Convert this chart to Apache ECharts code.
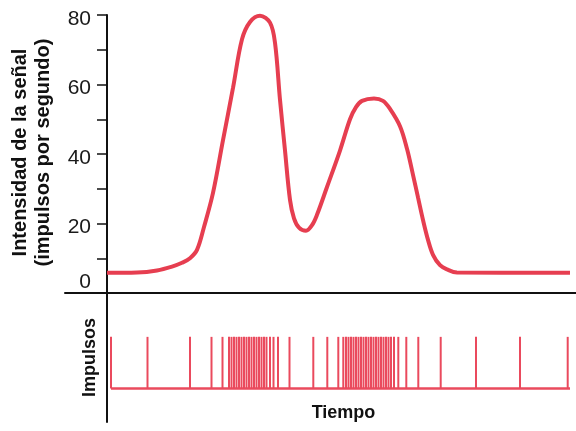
<!DOCTYPE html>
<html>
<head>
<meta charset="utf-8">
<script src="https://cdn.jsdelivr.net/npm/echarts@6/dist/echarts.min.js"></script>
<style>
html,body{margin:0;padding:0;background:#fff;}
#chart{width:576px;height:431px;}
</style>
</head>
<body>
<div id="chart"></div>
<script>
// Time (arbitrary units) and signal intensity (impulses per second)
const signalTime = [0, 30, 50, 65, 75, 83, 90, 97, 106, 116, 126, 135, 143, 153, 163, 168, 173, 178, 183, 187, 192, 199, 205, 210, 220, 233, 243, 249, 255, 267, 276, 283, 293, 300, 306, 311, 316, 321, 326, 333, 340, 350, 463];
const signalValue = [5.8, 5.9, 6.5, 7.6, 8.7, 10, 12.4, 19, 28.8, 44, 59, 73, 78, 79.8, 77.8, 72, 55.6, 41, 26.8, 21.5, 18.8, 17.9, 19.5, 22.5, 30.5, 41, 50, 53.5, 55.3, 56, 55.3, 53, 48, 41.5, 34, 27.5, 21, 15.3, 11, 8, 6.8, 5.9, 5.8];
// Impulse (spike) times
const impulseTimes = [4, 40.5, 83, 104.5, 115.5, 122, 124.5, 127, 129.5, 132, 134.5, 137, 139.5, 142, 144.5, 147, 149.5, 152, 154.5, 157, 159.5, 163, 166.5, 171, 182.5, 206.3, 220.3, 231.3, 236.3, 239, 241.5, 244, 246.5, 249, 251.5, 254, 256.5, 259, 261.5, 264, 266.5, 269, 271.5, 274, 276.5, 279, 281.5, 284, 287, 291.3, 299.3, 311.3, 333.7, 369, 413, 460.7];
const yTicks = [0, 20, 40, 60, 80];
const yName = 'Intensidad de la señal\n(impulsos por segundo)';
const impulseName = 'Impulsos';
const xName = 'Tiempo';

const red = '#e63e50';
const spikeRed = '#ea4a5d';
const font = 'Liberation Sans, Arial, Helvetica, sans-serif';

const chart = echarts.init(document.getElementById('chart'), null, {renderer: 'canvas'});
const curveData = signalTime.map((t, i) => [t, signalValue[i]]);
const spikeData = impulseTimes.map(t => [t, 1]);
const baseline = [[impulseTimes[0], 0], [signalTime[signalTime.length - 1], 0]];

chart.setOption({
  animation: false,
  backgroundColor: '#fff',
  grid: [
    {left: 65, right: 0, top: 15, bottom: 138, containLabel: false, outerBoundsMode: 'none'},
    {left: 65, right: 0, top: 293, bottom: 9, containLabel: false, outerBoundsMode: 'none'}
  ],
  xAxis: [
    {
      gridIndex: 0, type: 'value', min: -42, max: 469,
      axisLine: {show: true, onZero: true, lineStyle: {color: '#111', width: 2}},
      axisTick: {show: false}, axisLabel: {show: false}, splitLine: {show: false}
    },
    {
      gridIndex: 1, type: 'value', min: -42, max: 469,
      axisLine: {show: false, onZero: true},
      axisTick: {show: false}, axisLabel: {show: false}, splitLine: {show: false},
      name: xName, nameLocation: 'middle', nameGap: -18,
      nameTextStyle: {fontFamily: font, fontSize: 18, fontWeight: 'bold', color: '#111', padding: [0, 0, 0, 46]}
    }
  ],
  yAxis: [
    {
      gridIndex: 0, type: 'value', min: 0, max: 80, interval: 10,
      axisLine: {show: true, onZero: true, lineStyle: {color: '#111', width: 2}},
      axisTick: {show: true, inside: false, length: 10, lineStyle: {color: '#111', width: 1.5}},
      axisLabel: {
        margin: -26,
        fontFamily: font, fontSize: 21, color: '#1a1a1a',
        formatter: function (v) {
          if (yTicks.indexOf(v) < 0) return '';
          return v === 0 ? '{z|' + v + '}' : '{a|' + v + '}';
        },
        rich: {
          a: {fontFamily: font, fontSize: 21, color: '#1a1a1a', padding: [8, 0, 0, 0]},
          z: {fontFamily: font, fontSize: 21, color: '#1a1a1a', padding: [0, 0, 22, 0]}
        }
      },
      splitLine: {show: false},
      name: yName, nameLocation: 'middle', nameGap: 10,
      nameTextStyle: {fontFamily: font, fontSize: 20, fontWeight: 'bold', color: '#111', lineHeight: 23, padding: [0, 0, 0, 3]}
    },
    {
      gridIndex: 1, type: 'value', min: -0.65, max: 1.85,
      axisLine: {show: true, onZero: true, lineStyle: {color: '#111', width: 2}},
      axisTick: {show: false}, axisLabel: {show: false}, splitLine: {show: false},
      name: impulseName, nameLocation: 'middle', nameGap: -34,
      nameTextStyle: {fontFamily: font, fontSize: 18, fontWeight: 'bold', color: '#111'}
    }
  ],
  series: [
    {
      type: 'line', xAxisIndex: 0, yAxisIndex: 0,
      data: curveData, smooth: 0.35, showSymbol: false,
      lineStyle: {color: red, width: 4}, z: 5
    },
    {
      type: 'line', xAxisIndex: 1, yAxisIndex: 1,
      data: baseline, showSymbol: false,
      lineStyle: {color: spikeRed, width: 2.5}
    },
    {
      type: 'custom', xAxisIndex: 1, yAxisIndex: 1,
      data: spikeData,
      renderItem: function (params, api) {
        const t = api.value(0);
        const p0 = api.coord([t, 0]);
        const p1 = api.coord([t, api.value(1)]);
        return {
          type: 'line',
          shape: {x1: p0[0], y1: p0[1], x2: p1[0], y2: p1[1]},
          style: {stroke: spikeRed, lineWidth: 2}
        };
      }
    }
  ]
});
</script>
</body>
</html>
